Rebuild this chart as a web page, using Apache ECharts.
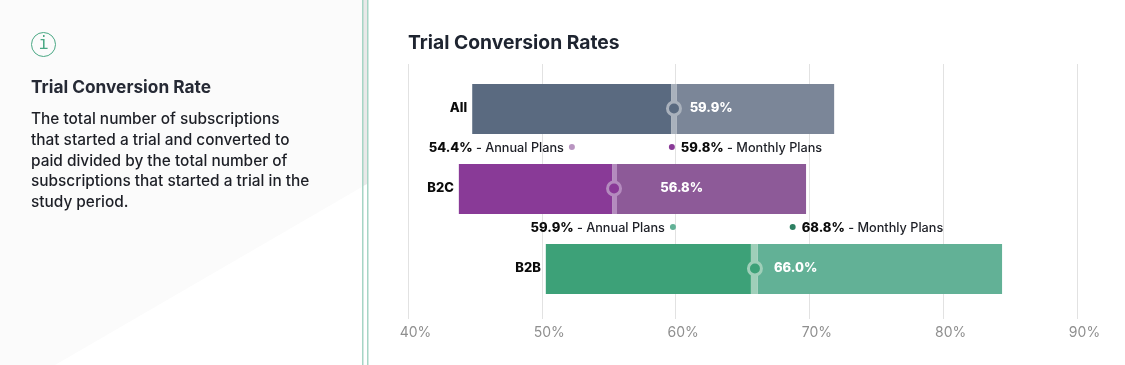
<!DOCTYPE html>
<html><head><meta charset="utf-8">
<style>html,body{margin:0;padding:0;background:#fff}#c{width:1125px;height:365px}</style>
<script src="https://cdn.jsdelivr.net/npm/echarts@6/dist/echarts.min.js"></script>
</head><body><div id="c"></div>
<script>
const FONT = 'Inter';
const chartTitle = 'Trial Conversion Rates';
const infoTitle = 'Trial Conversion Rate';
const infoLines = ['The total number of subscriptions','that started a trial and converted to','paid divided by the total number of','subscriptions that started a trial in the','study period.'];
const xTicks = [40, 50, 60, 70, 80, 90];
const categories = ['All', 'B2C', 'B2B'];
const barStart = [44.8, 43.8, 50.3];
const barEnd = [71.85, 69.75, 84.4];
const dividerStart = [59.66, 55.25, 65.63];
const dividerEnd = [60.1, 55.62, 66.15];
const markerAt = [59.88, 55.4, 65.93];
const valueLabels = ['59.9%', '56.8%', '66.0%'];
const valueLabelAt = [61.05, 58.85, 67.35];
const darkColors = ['#5a6a80', '#893a97', '#3da178'];
const lightColors = ['#7b8698', '#8d5a98', '#62b196'];
const dividerColors = ['#a9b1bc', '#b48bbe', '#9fcfb9'];
const planCategories = ['B2C', 'B2C', 'B2B', 'B2B'];
const planNames = ['Annual Plans', 'Monthly Plans', 'Annual Plans', 'Monthly Plans'];
const planLabels = ['54.4%', '59.8%', '59.9%', '68.8%'];
const planDotAt = [52.25, 59.72, 59.8, 68.75];
const planColors = ['#b995c1', '#893a97', '#62b196', '#2d8062'];

const chart = echarts.init(document.getElementById('c'), null, {renderer:'canvas'});
const panelText = infoLines.map((t,i)=>({type:'text',x:31,y:[119,140,161,181,202][i],
  style:{text:t,fill:'#1d1f26',font:'500 15.4px '+FONT,textVerticalAlign:'middle'}}));
chart.setOption({
  animation:false,
  backgroundColor:'#fff',
  title:{text:chartTitle,left:408,top:34,padding:0,textStyle:{fontFamily:FONT,fontSize:19.3,fontWeight:700,color:'#1e2430'}},
  grid:[{left:408,width:669,top:64,height:255},{left:408,width:669,top:69,height:240}],
  xAxis:[
    {type:'value',gridIndex:0,min:40,max:90,interval:10,
     axisLine:{show:false},axisTick:{show:false},
     splitLine:{show:true,lineStyle:{color:'#e2e2e2',width:1}},
     axisLabel:{formatter:v=>xTicks.includes(v)?v+'%':'',color:'#8f8f8f',fontFamily:FONT,fontSize:14,margin:7,padding:[0,0,0,15]}},
    {type:'value',gridIndex:1,min:40,max:90,interval:10,show:false}
  ],
  yAxis:[
    {type:'value',gridIndex:0,show:false,min:0,max:1},
    {type:'category',gridIndex:1,data:categories,inverse:true,show:false}
  ],
  graphic:[
    {type:'polygon',z:-10,shape:{points:[[0,0],[367,0],[367,184],[55,365],[0,365]]},style:{fill:'#fbfbfb'}},
    {type:'polygon',z:-9,shape:{points:[[363,0],[367,0],[367,184],[363,186]]},style:{fill:'#e9e9e9'}},
    {type:'rect',z:-8,shape:{x:362,y:0,width:1.5,height:365},style:{fill:'#a6d5c5'}},
    {type:'rect',z:-8,shape:{x:367,y:0,width:1.5,height:365},style:{fill:'#a6d5c5'}},
    {type:'circle',shape:{cx:43.5,cy:44.5,r:12},style:{fill:'none',stroke:'#4aa884',lineWidth:1}},
    {type:'text',x:43.5,y:45,style:{text:'i',fill:'#4aa884',font:'300 17px "DejaVu Sans Mono"',textAlign:'center',textVerticalAlign:'middle'}},
    {type:'text',x:31,y:88,style:{text:infoTitle,fill:'#262a35',font:'700 17.3px '+FONT,textVerticalAlign:'middle'}},
    ...panelText
  ],
  series:[
    {type:'custom',xAxisIndex:1,yAxisIndex:1,clip:false,z:3,
     data:categories.map((c,i)=>[barStart[i],i,barEnd[i],dividerStart[i],dividerEnd[i],markerAt[i],valueLabelAt[i]]),
     encode:{x:[0,2],y:1},
     renderItem(params,api){
       const i=params.dataIndex;
       const cy=api.coord([api.value(0),i])[1];
       const h=api.size([0,1])[1]*0.625;
       const px=k=>api.coord([api.value(k),i])[0];
       const rect=(a,b,fill)=>({type:'rect',shape:{x:a,y:cy-h/2,width:b-a,height:h},style:{fill}});
       return {type:'group',children:[
         rect(px(0),px(3),darkColors[i]),
         rect(px(4),px(2),lightColors[i]),
         rect(px(3),px(4),dividerColors[i]),
         {type:'circle',shape:{cx:px(5),cy:cy-0.5,r:6.5},style:{fill:darkColors[i],stroke:dividerColors[i],lineWidth:3}},
         {type:'text',x:px(6),y:cy-1,style:{text:valueLabels[i],fill:'#fff',font:'800 13px '+FONT,textVerticalAlign:'middle'}},
         {type:'text',x:px(0)-5,y:cy-1,style:{text:categories[i],fill:'#0b0b0b',font:'800 13px '+FONT,textAlign:'right',textVerticalAlign:'middle'}}
       ]};
     }},
    {type:'custom',xAxisIndex:1,yAxisIndex:1,clip:false,z:4,
     data:planDotAt.map((v,i)=>[v,categories.indexOf(planCategories[i])]),
     encode:{x:0,y:1},
     renderItem(params,api){
       const i=params.dataIndex;
       const p=api.coord([api.value(0),api.value(1)]);
       const y=p[1]-42;
       const annual=planNames[i].startsWith('Annual');
       return {type:'group',children:[
         {type:'circle',shape:{cx:p[0],cy:y,r:3},style:{fill:planColors[i]}},
         {type:'text',x:annual?p[0]-8:p[0]+9,y:y+1,style:{
           text:'{b|'+planLabels[i]+'}{n| - '+planNames[i]+'}',
           align:annual?'right':'left',verticalAlign:'middle',
           textAlign:annual?'right':'left',textVerticalAlign:'middle',
           rich:{b:{fontFamily:FONT,fontWeight:800,fontSize:13,fill:'#0b0b0b',color:'#0b0b0b'},
                 n:{fontFamily:FONT,fontWeight:500,fontSize:12.7,fill:'#1d1f26',color:'#1d1f26'}}}}
       ]};
     }}
  ]
});
</script></body></html>
